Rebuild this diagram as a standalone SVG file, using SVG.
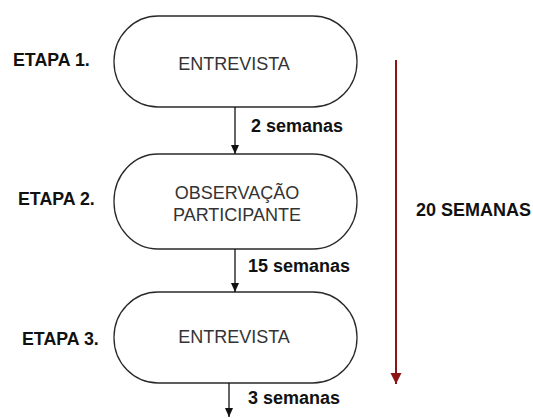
<svg xmlns="http://www.w3.org/2000/svg" width="533" height="418" viewBox="0 0 533 418">
<defs>
<style>
.node{fill:#fff;stroke:#2a2a2a;stroke-width:1.3}
.nt{font-family:"Liberation Sans",Arial,sans-serif;font-size:18px;fill:#333;text-anchor:middle}
.lbl{font-family:"Liberation Sans",Arial,sans-serif;font-size:17.8px;font-weight:bold;fill:#111}
.sem{font-family:"Liberation Sans",Arial,sans-serif;font-size:18px;font-weight:bold;fill:#111}
.conn{stroke:#111;stroke-width:1.3;fill:none}
</style>
<marker id="ah" markerWidth="10" markerHeight="10" refX="9" refY="5" orient="auto" markerUnits="userSpaceOnUse">
<path d="M0,1 L9,5 L0,9 Z" fill="#111"/>
</marker>
<marker id="ahr" markerWidth="12" markerHeight="12" refX="11" refY="6" orient="auto" markerUnits="userSpaceOnUse">
<path d="M0,0.5 L11,6 L0,11.5 Z" fill="#8b1515"/>
</marker>
</defs>
<rect width="533" height="418" fill="#fff"/>
<g id="labels">
<text class="lbl" x="13" y="66">ETAPA 1.</text>
<text class="lbl" x="18" y="205">ETAPA 2.</text>
<text class="lbl" x="22" y="345">ETAPA 3.</text>
</g>
<g id="node1">
<rect class="node" x="114" y="16" width="243" height="91" rx="44" ry="45"/>
<text class="nt" x="234" y="70">ENTREVISTA</text>
</g>
<g id="node2">
<rect class="node" x="114" y="154" width="243" height="95" rx="44" ry="47"/>
<text class="nt" x="237" y="199">OBSERVAÇÃO</text>
<text class="nt" x="237" y="221">PARTICIPANTE</text>
</g>
<g id="node3">
<rect class="node" x="114" y="292" width="243" height="91" rx="44" ry="45"/>
<text class="nt" x="234" y="343">ENTREVISTA</text>
</g>
<g id="connectors">
<line class="conn" x1="235" y1="107" x2="235" y2="154" marker-end="url(#ah)"/>
<line class="conn" x1="235" y1="249" x2="235" y2="292" marker-end="url(#ah)"/>
<line class="conn" x1="229" y1="383" x2="229" y2="417" marker-end="url(#ah)"/>
<line x1="396" y1="60" x2="396" y2="384" stroke="#8b1515" stroke-width="2" marker-end="url(#ahr)"/>
</g>
<g id="connector-labels">
<text class="sem" x="251" y="132">2 semanas</text>
<text class="sem" x="248" y="272">15 semanas</text>
<text class="sem" x="248" y="404">3 semanas</text>
<text class="sem" x="416" y="216">20 SEMANAS</text>
</g>
</svg>
